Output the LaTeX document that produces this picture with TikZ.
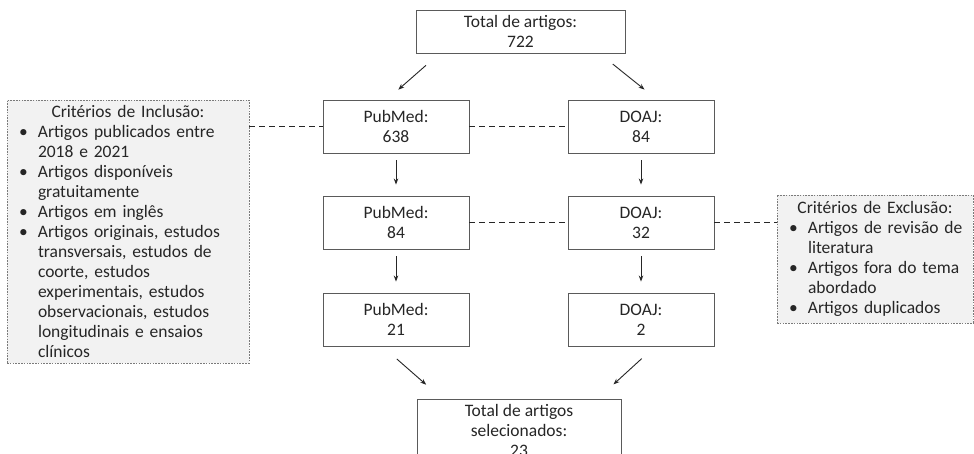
\documentclass[tikz,border=0pt]{standalone}
\usepackage{fontspec}
\setmainfont{Carlito}
\usetikzlibrary{arrows.meta,calc}
\definecolor{boxline}{HTML}{5A5A5A}
\definecolor{critfill}{HTML}{F2F2F2}
\definecolor{critline}{HTML}{7A7A7A}
\definecolor{txt}{HTML}{262626}
\newcommand{\bitem}[1]{\makebox[19pt][l]{\textbullet}#1}
\newcommand{\bcont}[1]{\hspace*{19pt}#1}
\newcommand{\ctitle}[1]{\makebox[\linewidth][c]{#1}}
\tikzset{
  flowbox/.style={draw=boxline, line width=0.9pt, fill=white, text=txt,
    minimum width=146pt, minimum height=53pt, align=center, inner sep=0pt,
    font=\fontsize{17.5}{20}\selectfont},
  critbox/.style={draw=critline, line width=0.8pt, dash pattern=on 1.6pt off 1.2pt,
    fill=critfill, text=txt, align=left, inner ysep=0pt,
    font=\fontsize{17.5}{20}\selectfont},
  arr/.style={draw=txt, line width=0.9pt, -{Stealth[length=6pt,width=4.5pt]}},
  dashline/.style={draw=txt, line width=0.9pt, dash pattern=on 6pt off 4pt}
}
\begin{document}
\begin{tikzpicture}[x=1pt,y=-1pt]
\clip (0,0) rectangle (974,454);
\fill[white] (0,0) rectangle (974,454);
% main column boxes
\node[flowbox, minimum width=209pt, minimum height=43pt] (top) at (520.5,31.5) {Total de artigos:\\722};
\node[flowbox] (pm1) at (396,126.5) {PubMed:\\638};
\node[flowbox] (do1) at (641,126.5) {DOAJ:\\84};
\node[flowbox] (pm2) at (396,222.5) {PubMed:\\84};
\node[flowbox] (do2) at (641,222.5) {DOAJ:\\32};
\node[flowbox] (pm3) at (396,319.5) {PubMed:\\21};
\node[flowbox] (do3) at (641,319.5) {DOAJ:\\2};
\node[flowbox, minimum width=204pt, minimum height=62pt] (fin) at (519,430) {Total de artigos\\selecionados:\\23};
% criteria boxes
\node[critbox, minimum width=242pt, minimum height=263pt, text width=218pt, inner xsep=12pt] (incl) at (128,231.5) {%
\ctitle{Critérios de Inclusão:}\\
\bitem{Artigos publicados entre}\\
\bcont{2018 e 2021}\\
\bitem{Artigos disponíveis}\\
\bcont{gratuitamente}\\
\bitem{Artigos em inglês}\\
\bitem{Artigos originais, estudos}\\
\bcont{transversais, estudos de}\\
\bcont{coorte, estudos}\\
\bcont{experimentais, estudos}\\
\bcont{observacionais, estudos}\\
\bcont{longitudinais e ensaios}\\
\bcont{clínicos}};
\node[critbox, minimum width=196pt, minimum height=128pt, text width=180pt, inner xsep=8pt] (excl) at (875,259) {%
\ctitle{Critérios de Exclusão:}\\
\hspace*{4pt}\bitem{Artigos de revisão de}\\
\hspace*{4pt}\bcont{literatura}\\
\hspace*{4pt}\bitem{Artigos fora do tema}\\
\hspace*{4pt}\bcont{abordado}\\
\hspace*{4pt}\bitem{Artigos duplicados}};
% dashed links
\draw[dashline] (pm1.west -| incl.east) -- (pm1.west);
\draw[dashline] (pm1.east) -- (do1.west);
\draw[dashline] (pm2.east) -- (do2.west);
\draw[dashline] (do2.east) -- (do2.east -| excl.west);
% arrows
\draw[arr, shorten <=18pt, shorten >=15pt] ([xshift=-81pt]top.south) -- ([xshift=-9pt]pm1.north);
\draw[arr, shorten <=17pt, shorten >=16pt] ([xshift=79pt]top.south) -- ([xshift=16pt]do1.north);
\draw[arr, shorten <=7pt, shorten >=11pt] (pm1.south) -- (pm2.north);
\draw[arr, shorten <=7pt, shorten >=11pt] (do1.south) -- (do2.north);
\draw[arr, shorten <=7pt, shorten >=11pt] (pm2.south) -- (pm3.north);
\draw[arr, shorten <=7pt, shorten >=11pt] (do2.south) -- (do3.north);
\draw[arr, shorten <=19pt, shorten >=21pt] ([xshift=-13.5pt]pm3.south) -- ([xshift=-77pt]fin.north);
\draw[arr, shorten <=18pt, shorten >=21pt] ([xshift=14pt]do3.south) -- ([xshift=79pt]fin.north);
\end{tikzpicture}
\end{document}
